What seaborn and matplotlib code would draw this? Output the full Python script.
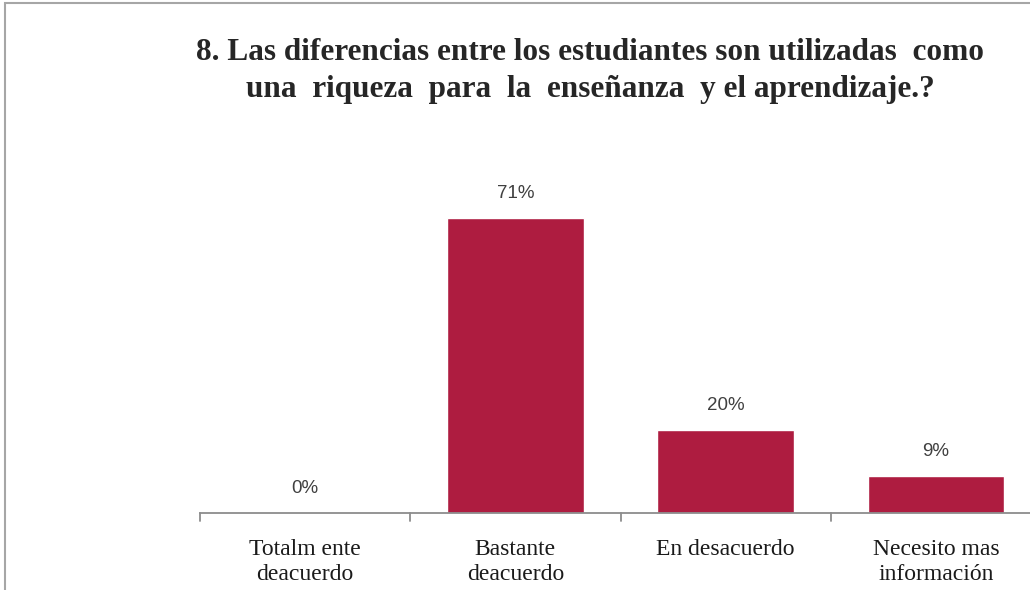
import numpy as np
import pandas as pd
import matplotlib.pyplot as plt
import seaborn as sns
from matplotlib.patches import Rectangle

categories = ["Totalm ente\ndeacuerdo", "Bastante\ndeacuerdo", "En desacuerdo", "Necesito mas\ninformación"]
values = [0, 71, 20, 9]
labels = ["0%", "71%", "20%", "9%"]
title = "8. Las diferencias entre los estudiantes son utilizadas  como\nuna  riqueza  para  la  enseñanza  y el aprendizaje.?"

df = pd.DataFrame({"cat": categories, "val": values})

sns.set_style("white")
W, H = 1030, 590
fig = plt.figure(figsize=(W / 100, H / 100), dpi=100)

# chart frame (cut off at right and bottom like the screenshot)
fig.patches.append(Rectangle((5 / W, -0.1), 1.2, (H - 3) / H + 0.1, transform=fig.transFigure,
                             fill=False, edgecolor="#a6a6a6", linewidth=1.5))

# axes: category width ~210px, baseline at y=513
ax = fig.add_axes([200 / W, (H - 513) / H, 841 / W, 363 / H])
sns.barplot(data=df, x="cat", y="val", color="#ae1c40", width=0.65, saturation=1, ax=ax)
ax.set_ylim(0, 363 / 4.155)
ax.set_xlim(-0.5, 3.5)

for i, (v, lab) in enumerate(zip(values, labels)):
    ax.annotate(lab, (i, v), xytext=(0, 16), textcoords="offset pixels",
                ha="center", va="bottom", fontsize=13.5, color="#404040", family="Liberation Sans")

ax.set_xlabel("")
ax.set_ylabel("")
ax.set_yticks([])
ax.set_xticks(np.arange(4))
ax.set_xticklabels(categories, family="Liberation Serif", fontsize=17, color="#1a1a1a", linespacing=1.25)
ax.tick_params(axis="x", length=0, pad=19)
for s in ["top", "left", "right"]:
    ax.spines[s].set_visible(False)
ax.spines["bottom"].set_color("#8c8c8c")
ax.spines["bottom"].set_linewidth(1.3)
# boundary tick marks
for b in [-0.5, 0.5, 1.5, 2.5]:
    ax.plot([b, b], [0, -0.022], transform=ax.get_xaxis_transform(), color="#8c8c8c",
            linewidth=1.3, clip_on=False)

fig.text(590 / W, 1 - 71 / H, title, ha="center", va="center", fontsize=22.5, fontweight="bold",
         family="Liberation Serif", linespacing=1.32)

fig.savefig("out.png", dpi=100)
